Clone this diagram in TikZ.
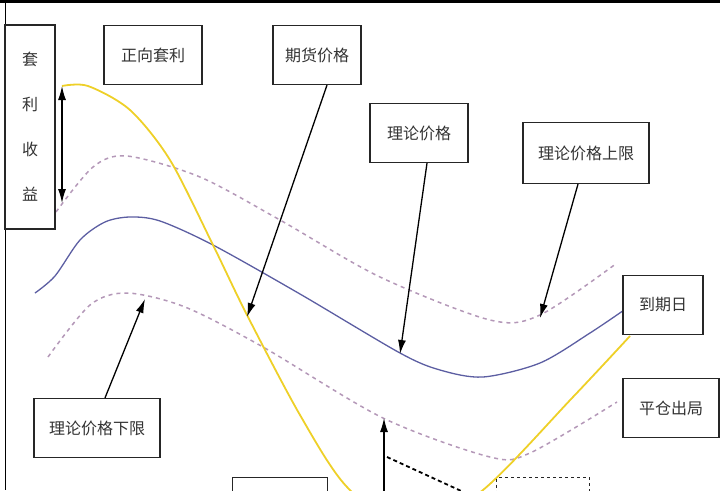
\documentclass[tikz,border=0pt]{standalone}
\usepackage{fontspec}
\newfontfamily\cjk{Noto Sans CJK SC}
\usetikzlibrary{arrows.meta, positioning}
\usepackage{xcolor}
\definecolor{futyellow}{RGB}{238,208,40}
\definecolor{theoblue}{RGB}{92,94,162}
\definecolor{boundpink}{RGB}{180,152,184}

\begin{document}
\begin{tikzpicture}[
        x=1pt, y=-1pt,
        % Style for the label boxes
        labelbox/.style={rectangle, draw=black!85, line width=1.2pt, fill=white, minimum height=59pt, inner sep=4pt, font=\cjk\fontsize{16}{18}\selectfont, text=black!80},
        % Styles for the price lines
        futcurve/.style={futyellow, line width=1.8pt},
        theocurve/.style={theoblue, line width=1.3pt},
        boundcurve/.style={boundpink, line width=1.5pt, dash pattern=on 4pt off 4pt},
        % Style for the arrows
        pointer/.style={draw=black, line width=1.3pt, -{Latex[length=14pt,width=8pt]}}
    ]
    \useasboundingbox (0,0) rectangle (720,490);
    \clip (0,0) rectangle (720,490);

    % --- FRAME ---
    \draw[line width=3pt] (0,1.5) -- (720,1.5);
    \draw[line width=1pt] (5,0) -- (5,490);

    % --- CURVES ---
    \draw[boundcurve] plot[smooth] coordinates {(56,212) (93,167) (127,156) (200,177) (280,220) (380,277) (490,320) (540,315) (617,263)};
    \draw[boundcurve] plot[smooth] coordinates {(48,357) (90,305) (127,293) (185,307) (263,347) (383,418) (490,457) (530,453) (617,402)};
    \draw[theocurve] plot[smooth] coordinates {(35,293) (55,276) (80,240) (105,222) (130,217) (160,221) (213,245) (300,294) (400,353) (440,370) (483,377) (540,363) (590,333) (627,308)};
    \draw[futcurve] plot[smooth] coordinates {(62,86) (88,86) (130,110) (170,160) (213,245) (247,315) (300,415) (347,487) (410,530) (483,490) (573,397) (630,336)};
    \draw[black, line width=1.8pt, dash pattern=on 4pt off 3pt] (387,457) -- (470,495);

    % --- BOXES ---
    \node (taoli) [labelbox, minimum width=50pt, minimum height=204pt, align=center, font=\cjk\fontsize{16}{45}\selectfont] at (30,127) {套\\利\\收\\益};
    \node (zhengxiang) [labelbox, minimum width=98pt] at (153,55) {正向套利};
    \node (qihuo) [labelbox, minimum width=88pt] at (317,55) {期货价格};
    \node (lilun) [labelbox, minimum width=98pt] at (419,133) {理论价格};
    \node (shangxian) [labelbox, minimum width=126pt, minimum height=61pt] at (586,153) {理论价格上限};
    \node (daoqi) [labelbox, minimum width=80pt] at (663,305) {到期日};
    \node (pingcang) [labelbox, minimum width=96pt] at (671,408) {平仓出局};
    \node (xiaxian) [labelbox, minimum width=126pt] at (97,428) {理论价格下限};
    \node (leftbottom) [labelbox, minimum width=95pt] at (280,507) {};
    \node (rightbottom) [labelbox, dashed, minimum width=93pt] at (543,507) {};

    % --- ARROWS ---
    \coordinate (gaintop) at (62,86);
    \coordinate (gainbot) at (62,203);
    \coordinate (futtip) at (247,317);
    \coordinate (theotip) at (400,354);
    \coordinate (uppertip) at (540,318);
    \coordinate (lowertip) at (145,299);
    \coordinate (upfoot) at (384,495);
    \coordinate (uptip) at (384,418);

    \draw[pointer, {Latex[length=14pt,width=8pt]}-{Latex[length=14pt,width=8pt]}] (gaintop) -- (gainbot);
    \draw[pointer] ([xshift=10pt]qihuo.south) -- (futtip);
    \draw[pointer] ([xshift=8pt]lilun.south) -- (theotip);
    \draw[pointer] ([xshift=-8pt]shangxian.south) -- (uppertip);
    \draw[pointer] ([xshift=8pt]xiaxian.north) -- (lowertip);
    \draw[pointer] (upfoot) -- (uptip);

\end{tikzpicture}
\end{document}
